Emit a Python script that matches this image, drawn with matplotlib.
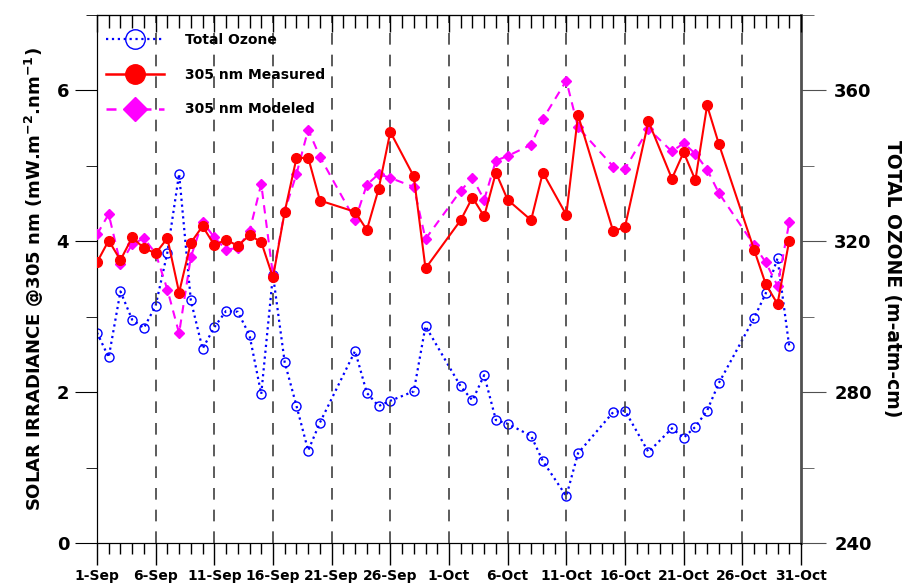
"""Solar irradiance at 305 nm vs total ozone, Sep-Oct."""

import matplotlib
matplotlib.use("Agg")
import matplotlib.pyplot as plt
from matplotlib.lines import Line2D
from matplotlib.ticker import MultipleLocator

# day offsets from 1-Sep (1-Oct = 30)
days = [0, 1, 2, 3, 4, 5, 6, 7, 8, 9, 10, 11, 12, 13, 14, 15, 16, 17, 18, 19,
        22, 23, 24, 25, 27, 28, 31, 32, 33, 34, 35, 37, 38, 40, 41, 44, 45,
        47, 49, 50, 51, 52, 53, 56, 57, 58, 59]

total_ozone = [295.8, 289.2, 306.7, 299.2, 297.0, 302.9, 317.0, 337.9, 304.3,
               291.5, 297.2, 301.5, 301.3, 295.1, 279.5, 311.1, 287.9, 276.4,
               264.5, 271.9, 290.9, 279.8, 276.3, 277.7, 280.2, 297.5, 281.5,
               277.8, 284.5, 272.6, 271.6, 268.4, 261.7, 252.4, 263.8, 274.7,
               275.1, 264.1, 270.4, 267.9, 270.8, 275.1, 282.4, 299.6, 306.2,
               315.5, 292.1]

measured = [3.72, 4.01, 3.75, 4.05, 3.91, 3.84, 4.04, 3.32, 3.98, 4.20, 3.95,
            4.02, 3.94, 4.08, 3.99, 3.52, 4.39, 5.10, 5.11, 4.54, 4.39, 4.15,
            4.69, 5.45, 4.86, 3.64, 4.28, 4.58, 4.33, 4.91, 4.55, 4.28, 4.91,
            4.35, 5.67, 4.13, 4.19, 5.59, 4.83, 5.18, 4.81, 5.80, 5.29, 3.89,
            3.43, 3.17, 4.01]

modeled = [4.09, 4.36, 3.70, 3.96, 4.04, 3.84, 3.36, 2.78, 3.79, 4.26, 4.05,
           3.89, 3.91, 4.13, 4.76, 3.55, 4.40, 4.89, 5.48, 5.12, 4.28, 4.75,
           4.89, 4.84, 4.72, 4.03, 4.67, 4.84, 4.55, 5.07, 5.13, 5.28, 5.62,
           6.13, 5.51, 4.99, 4.96, 5.49, 5.19, 5.30, 5.16, 4.95, 4.64, 3.95,
           3.72, 3.41, 4.25]

tick_days = [0, 5, 10, 15, 20, 25, 30, 35, 40, 45, 50, 55, 60]
tick_labels = ["1-Sep", "6-Sep", "11-Sep", "16-Sep", "21-Sep", "26-Sep",
               "1-Oct", "6-Oct", "11-Oct", "16-Oct", "21-Oct", "26-Oct",
               "31-Oct"]

BLUE = "#0000ff"
RED = "#ff0000"
MAGENTA = "#ff00ff"


def main() -> None:
    plt.rcParams["font.family"] = "DejaVu Sans"
    plt.rcParams["font.weight"] = "bold"
    plt.rcParams["mathtext.default"] = "bf"

    fig = plt.figure(figsize=(9.02, 5.87), dpi=100)
    ax = fig.add_axes([0.1075, 0.075, 0.7805, 0.8995])
    ax2 = ax.twinx()

    # vertical dashed grid at major ticks
    for d in tick_days[1:-1]:
        ax.axvline(d, color="#404040", lw=1.2, ls=(0, (7, 6)), zorder=0)

    ax2.plot(days, total_ozone, color=BLUE, lw=1.6, ls=":", marker="o",
             ms=6.5, mfc="none", mec=BLUE, mew=1.0, zorder=3)
    ax.plot(days, modeled, color=MAGENTA, lw=1.5, ls=(0, (4, 3)), marker="D",
            ms=5.5, mfc=MAGENTA, mec=MAGENTA, zorder=4)
    ax.plot(days, measured, color=RED, lw=1.5, ls="-", marker="o",
            ms=7, mfc=RED, mec=RED, zorder=5)
    ax.set_zorder(ax2.get_zorder() + 1)
    ax.patch.set_visible(False)
    ax.spines["right"].set_visible(False)

    ax.set_xlim(0, 60)
    ax.set_ylim(0, 7)
    ax2.set_ylim(240, 380)

    ax.set_xticks(tick_days)
    ax.set_xticklabels(tick_labels, fontsize=10, fontweight="bold")
    ax.xaxis.set_minor_locator(MultipleLocator(1))
    ax.tick_params(axis="x", which="major", direction="out", length=16,
                   width=1, pad=3)
    ax.tick_params(axis="x", which="minor", direction="out", length=8, width=1)

    top = ax.secondary_xaxis("top")
    top.set_xticks(tick_days)
    top.xaxis.set_minor_locator(MultipleLocator(1))
    top.tick_params(which="major", direction="in", length=12, width=1,
                    labeltop=False)
    top.tick_params(which="minor", direction="in", length=9, width=1)

    ax.set_yticks([0, 2, 4, 6])
    ax.yaxis.set_minor_locator(MultipleLocator(1))
    ax.tick_params(axis="y", which="major", direction="out", length=16,
                   labelsize=13, pad=4)
    ax.tick_params(axis="y", which="minor", direction="out", length=8)

    ax2.set_yticks([240, 280, 320, 360])
    ax2.yaxis.set_minor_locator(MultipleLocator(20))
    ax2.tick_params(axis="y", which="major", direction="out", length=18,
                    labelsize=13, pad=6, color="#505050")
    ax2.tick_params(axis="y", which="minor", direction="out", length=9,
                    color="#505050")
    ax2.spines["right"].set_color("#505050")
    ax2.spines["right"].set_linewidth(2)
    for lab in ax.get_yticklabels() + ax2.get_yticklabels():
        lab.set_fontweight("bold")

    ax.set_ylabel(r"SOLAR IRRADIANCE @305 nm (mW.m$^{-2}$.nm$^{-1}$)",
                  fontsize=13, fontweight="bold", labelpad=8)
    ax2.set_ylabel("TOTAL OZONE (m-atm-cm)", fontsize=13.5, fontweight="bold",
                   rotation=270, labelpad=22)

    handles = [
        Line2D([], [], color=BLUE, lw=1.6, ls=":", marker="o", ms=14,
               mfc="none", mec=BLUE, mew=1.0),
        Line2D([], [], color=RED, lw=1.8, ls="-", marker="o", ms=14,
               mfc=RED, mec=RED),
        Line2D([], [], color=MAGENTA, lw=1.8, ls=(0, (4, 3)), marker="D",
               ms=12, mfc=MAGENTA, mec=MAGENTA),
    ]
    ax.legend(handles, ["Total Ozone", "305 nm Measured", "305 nm Modeled"],
              loc="upper left", bbox_to_anchor=(-0.005, 0.99), frameon=False,
              handlelength=4.2, handletextpad=1.5, labelspacing=1.5,
              prop={"size": 10, "weight": "bold"})

    fig.savefig("out.png", dpi=100)
    plt.close(fig)


if __name__ == "__main__":
    main()
